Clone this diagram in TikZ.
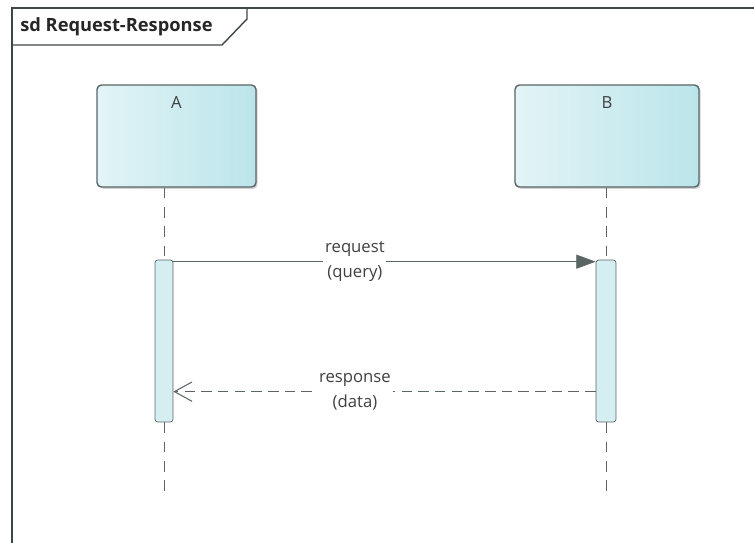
\documentclass[tikz,border=0pt]{standalone}
\usepackage{fontspec}
\setmainfont{Open Sans}
\usetikzlibrary{arrows.meta,shadows}

\definecolor{lifecyan}{HTML}{E2F4F6}
\definecolor{lifecyandark}{HTML}{BBE5EA}
\definecolor{actfill}{HTML}{D5EEF2}
\definecolor{edgegray}{HTML}{5B6566}

\begin{document}
\begin{tikzpicture}[x=0.02cm, y=-0.02cm, font=\fontsize{9.5}{14.5}\selectfont,
    obj/.style={draw=edgegray, thick, rounded corners=2.5pt, left color=lifecyan, right color=lifecyandark,
        minimum height=2.04cm, inner sep=0pt, drop shadow={shadow xshift=1pt, shadow yshift=-1pt, opacity=0.35}},
    act/.style={draw=edgegray, fill=actfill, rounded corners=1.5pt, minimum height=3.24cm, inner sep=0pt},
    life/.style={edgegray, dash pattern=on 6pt off 5pt},
    msg/.style={fill=white, inner sep=1pt, align=center, text=black!75},
    objlabel/.style={anchor=north, inner sep=0pt, yshift=-7pt, text=black!75}]

    \useasboundingbox (0,0) rectangle (754,542);

    % frame, cut off by the page at right and bottom
    \begin{scope}
        \clip (0,0) rectangle (754,542);
        \draw[edgegray!70!black, thick] (12,8) rectangle (770,560);
    \end{scope}
    \node[anchor=west, inner sep=0pt, font=\fontsize{10.4}{12}\selectfont\bfseries, text=black!85] (title) at (20,27) {sd Request-Response};
    \draw[edgegray!70!black, thick] (12,45) -- (222,45) -- (247,19) -- (247,8);

    % participants
    \node[obj, minimum width=3.18cm, label={[objlabel]north:A}] (A) at (176.5,136) {};
    \node[obj, minimum width=3.68cm, label={[objlabel]north:B}] (B) at (607,136) {};

    % activations
    \node[act, minimum width=0.36cm] (actA) at (164,341) {};
    \node[act, minimum width=0.40cm] (actB) at (606,341) {};

    \coordinate (endA) at (164,497);
    \coordinate (endB) at (606,497);

    % lifelines
    \draw[life] (A.south -| actA) -- (actA.north);
    \draw[life] (actA.south) -- (endA);
    \draw[life] (B.south -| actB) -- (actB.north);
    \draw[life] (actB.south) -- (endB);

    % messages
    \draw[edgegray, -{Triangle[length=11pt, width=8pt]}] ([yshift=-0.04cm]actA.north east) -- ([yshift=-0.04cm]actB.north west)
        node[msg, pos=0.43] (req) {request\\(query)};
    \draw[edgegray, dash pattern=on 6pt off 3.5pt, -{Straight Barb[length=10pt, width=11pt, line width=0.6pt]}]
        ([yshift=-2.64cm]actB.north west) -- ([yshift=-2.64cm]actA.north east)
        node[msg, pos=0.57] (resp) {response\\(data)};
\end{tikzpicture}
\end{document}
